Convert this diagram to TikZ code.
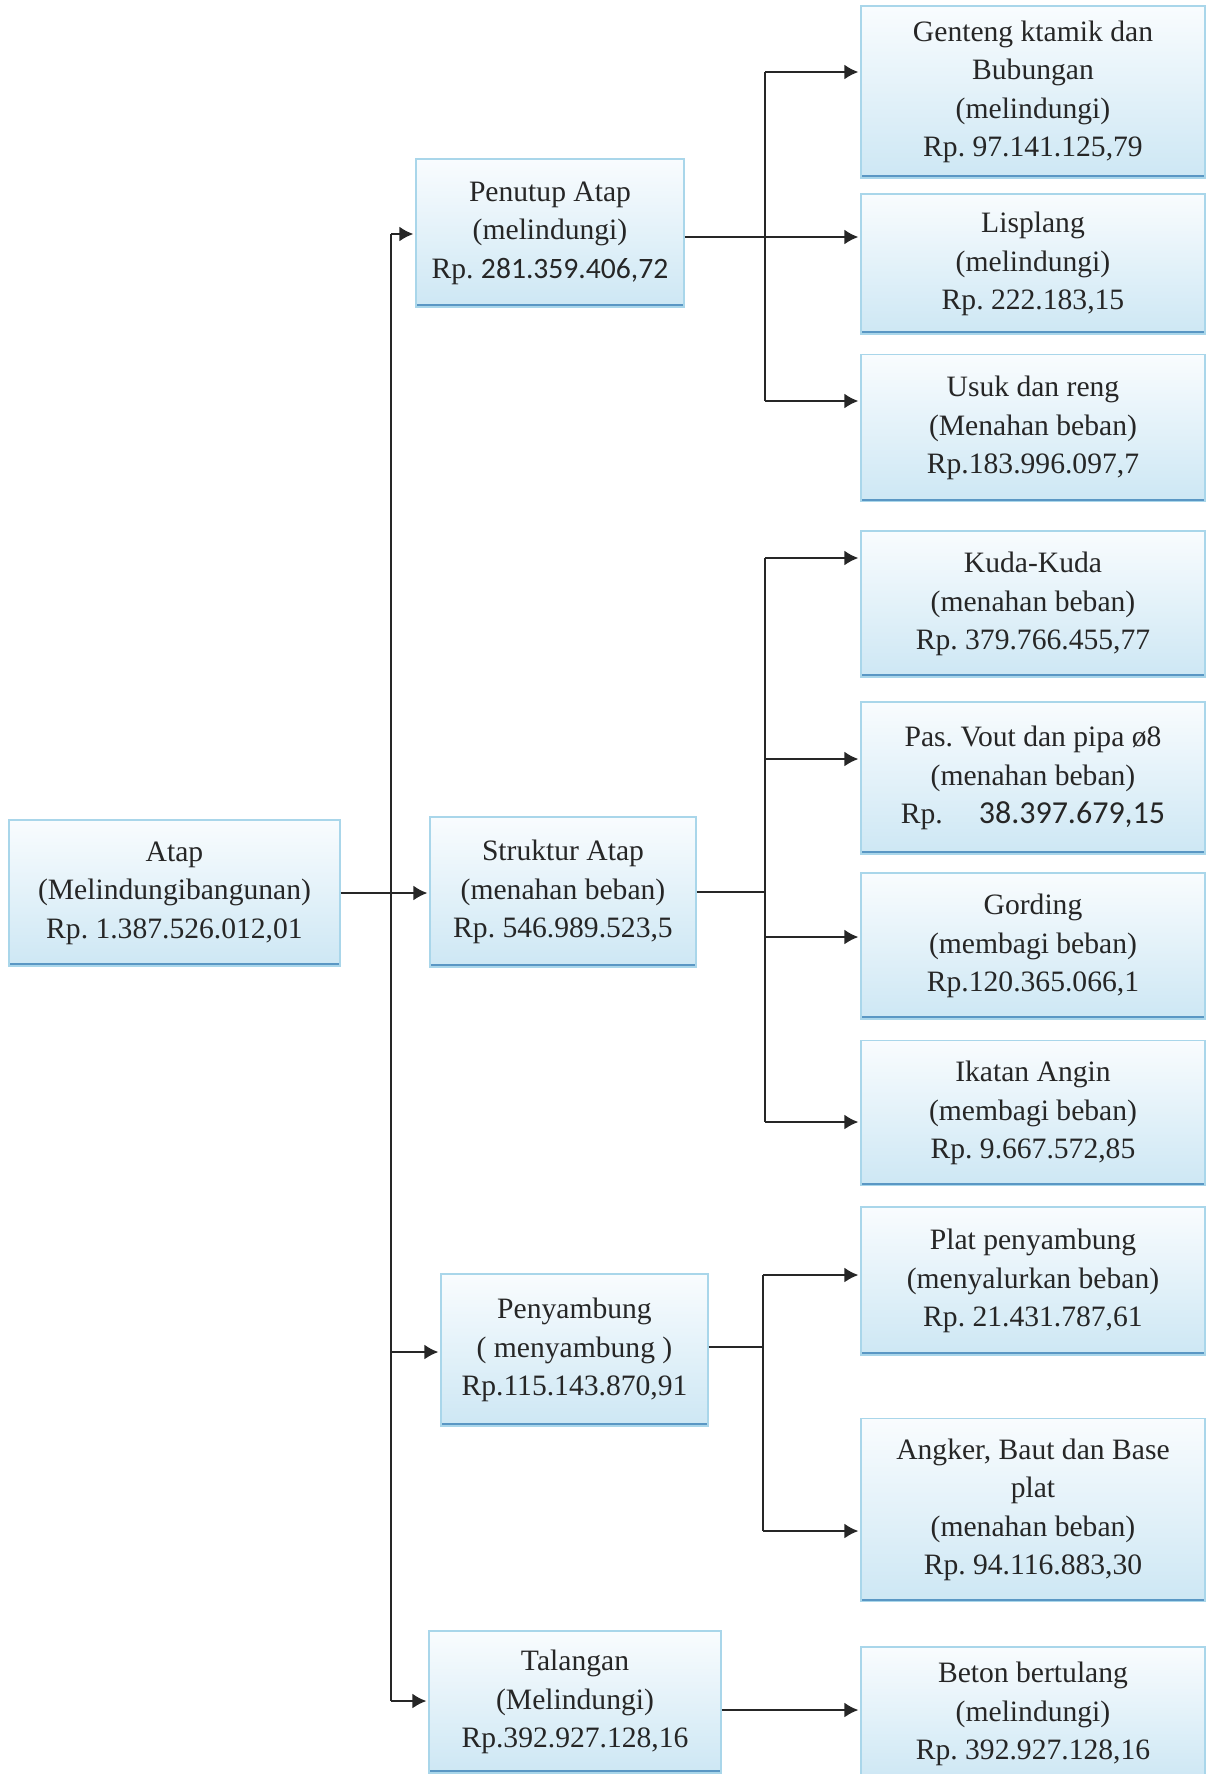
\documentclass[tikz,border=0pt]{standalone}
\usepackage{fontspec}
\setmainfont{Liberation Serif}
\newfontfamily\calibrinum{Carlito}
\usetikzlibrary{arrows.meta}
\definecolor{boxtop}{HTML}{F9FCFE}
\definecolor{boxbottom}{HTML}{CDE7F4}
\definecolor{boxedge}{HTML}{A9D6EA}
\definecolor{boxbase}{HTML}{5A97C4}
\definecolor{linkgray}{HTML}{262626}
\frenchspacing

% box: name, centre x, centre y, width, height (px), text
\newcommand\costbox[6]{\node[box,minimum width=#4*0.5pt,minimum height=#5*0.5pt] (#1) at (#2,#3) {#6};}

\begin{document}
\begin{tikzpicture}[x=0.5pt,y=-0.5pt,
  box/.style={draw=boxedge, line width=0.6pt, top color=boxtop, bottom color=boxbottom,
    align=center, inner sep=0pt, text=black!85,
    font=\fontsize{14.8}{19.2}\selectfont\frenchspacing,
    path picture={\draw[boxbase, line width=3pt]
      (path picture bounding box.south west) -- (path picture bounding box.south east);}},
  link/.style={draw=linkgray, line width=1.1pt},
  arr/.style={link, shorten >=1pt, -{Latex[length=7pt,width=7.5pt]}}]
\useasboundingbox (0,0) rectangle (1212,1774);

% main items
\costbox{atap}{174.5}{893}{331}{146}{Atap\\(Melindungibangunan)\\Rp. 1.387.526.012,01}
\costbox{penutup}{550}{233}{268}{148}{Penutup Atap\\(melindungi)\\Rp. {\calibrinum 281.359.406,72}}
\costbox{struktur}{563}{892}{266}{150}{Struktur Atap\\(menahan beban)\\Rp. 546.989.523,5}
\costbox{penyambung}{574.5}{1350}{267}{152}{Penyambung\\( menyambung )\\Rp.115.143.870,91}
\costbox{talangan}{575}{1702}{292}{142}{Talangan\\(Melindungi)\\Rp.392.927.128,16}

% sub items
\costbox{genteng}{1033}{92}{344}{172}{Genteng ktamik dan\\Bubungan\\(melindungi)\\Rp. 97.141.125,79}
\costbox{lisplang}{1033}{264}{344}{140}{Lisplang\\(melindungi)\\Rp. 222.183,15}
\costbox{usuk}{1033}{428}{344}{147}{Usuk dan reng\\(Menahan beban)\\Rp.183.996.097,7}
\costbox{kuda}{1033}{604}{344}{146}{Kuda-Kuda\\(menahan beban)\\Rp. 379.766.455,77}
\costbox{vout}{1033}{778}{344}{152}{Pas. Vout dan pipa ø8\\(menahan beban)\\Rp.\hspace{18pt}{\calibrinum\fontsize{16}{19.2}\selectfont 38.397.679,15}}
\costbox{gording}{1033}{946}{344}{146}{Gording\\(membagi beban)\\Rp.120.365.066,1}
\costbox{ikatan}{1033}{1113}{344}{145}{Ikatan Angin\\(membagi beban)\\Rp. 9.667.572,85}
\costbox{plat}{1033}{1281}{344}{148}{Plat penyambung\\(menyalurkan beban)\\Rp. 21.431.787,61}
\costbox{angker}{1033}{1510}{344}{183}{Angker, Baut dan Base\\plat\\(menahan beban)\\Rp. 94.116.883,30}
\costbox{beton}{1033}{1714}{344}{134}{Beton bertulang\\(melindungi)\\Rp. 392.927.128,16}

% trunk from the main item
\coordinate (tTop) at (391,234);
\coordinate (tPen) at (391,1352);
\coordinate (tBot) at (391,1701);
\draw[link] (tTop) -- (tBot);
\draw[arr] (tTop) -- (penutup.west |- tTop);
\draw[arr] (atap.east) -- (struktur.west |- atap.east);
\draw[arr] (tPen) -- (penyambung.west |- tPen);
\draw[arr] (tBot) -- (talangan.west |- tBot);

% roof covering branch
\coordinate (a1) at (765,72);
\coordinate (a2) at (765,237);
\coordinate (a3) at (765,401);
\draw[link] (a1) -- (a3);
\draw[arr] (penutup.east |- a2) -- (lisplang.west |- a2);
\draw[arr] (a1) -- (genteng.west |- a1);
\draw[arr] (a3) -- (usuk.west |- a3);

% roof structure branch
\coordinate (b1) at (765,558);
\coordinate (b2) at (765,759);
\coordinate (b3) at (765,937);
\coordinate (b4) at (765,1122);
\draw[link] (b1) -- (b4);
\draw[link] (struktur.east) -- (struktur.east -| b1);
\draw[arr] (b1) -- (kuda.west |- b1);
\draw[arr] (b2) -- (vout.west |- b2);
\draw[arr] (b3) -- (gording.west |- b3);
\draw[arr] (b4) -- (ikatan.west |- b4);

% connector branch
\coordinate (c0) at (763,1347);
\coordinate (c1) at (763,1275);
\coordinate (c2) at (763,1531);
\draw[link] (c1) -- (c2);
\draw[link] (penyambung.east |- c0) -- (c0);
\draw[arr] (c1) -- (plat.west |- c1);
\draw[arr] (c2) -- (angker.west |- c2);

% gutter branch
\coordinate (d0) at (740,1710);
\draw[arr] (talangan.east |- d0) -- (beton.west |- d0);
\end{tikzpicture}
\end{document}
